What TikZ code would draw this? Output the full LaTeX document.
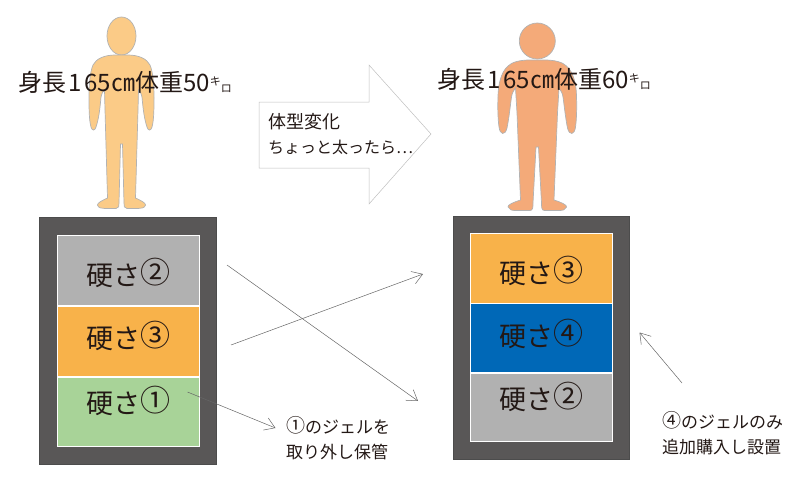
\documentclass[tikz,border=0pt]{standalone}
\usepackage{fontspec}
\setmainfont{Noto Sans CJK JP}
\usetikzlibrary{arrows.meta, positioning}
\definecolor{frameg}{HTML}{595757}
\definecolor{gelgray}{HTML}{B1B1B1}
\definecolor{gelorange}{HTML}{F8B24A}
\definecolor{gelgreen}{HTML}{A8D398}
\definecolor{gelblue}{HTML}{0068B7}
\definecolor{skinA}{HTML}{FBCB87}
\definecolor{skinB}{HTML}{F4AA79}
\definecolor{inkc}{HTML}{231815}
\newcommand{\kilo}{\raisebox{6pt}{\fontsize{11}{11}\selectfont キ}\raisebox{-1pt}{\fontsize{11}{11}\selectfont ロ}}
\newcommand{\hardnum}[1]{\raisebox{1.5pt}{\fontsize{30}{27}\selectfont #1}}
\newcommand{\notenum}[1]{\raisebox{1pt}{\fontsize{19}{25}\selectfont #1}}

\begin{document}
\begin{tikzpicture}[x=1pt, y=-1pt, every node/.style={text=inkc}]
   \tikzstyle{frame}=[rectangle, draw=black!70, fill=frameg, inner sep=0pt]
   \tikzstyle{gel}=[rectangle, draw=white, line width=1pt, inner sep=0pt, minimum width=142pt, minimum height=70pt]
   \tikzstyle{hard}=[font=\fontsize{27}{27}\selectfont, inner sep=0pt]
   \tikzstyle{note}=[font=\fontsize{17}{25}\selectfont, align=left, inner sep=0pt]
   \tikzstyle{size}=[font=\fontsize{24}{24}\selectfont, inner sep=0pt]
   \tikzstyle{body}=[draw=black!30, line width=0.7pt]
   \tikzstyle{thin}=[draw=black!60, line width=0.5pt, -{Straight Barb[length=10pt, width=13pt, line width=0.5pt]}]
   \useasboundingbox (0,0) rectangle (800,480);

   % Person before
   \draw[body, fill=skinA] (121.5,36) ellipse (14.5 and 19);
   \draw[body, fill=skinA] (115,55) .. controls (104,55) and (96,59) .. (93,65)
      .. controls (90,72) and (89,85) .. (89,97) .. controls (89,108) and (89,120) .. (91,127)
      .. controls (92,131) and (95,131) .. (96,127) .. controls (99,118) and (100,108) .. (101,97)
      .. controls (102,93) and (103,91) .. (104.5,90) -- (105,110) -- (107.5,198)
      .. controls (103,200) and (97,203) .. (97.5,205) .. controls (98,208) and (102,208.5) .. (105,208.5)
      -- (116,208.5) .. controls (119,208.5) and (119,206) .. (119,203) -- (120.5,144) -- (122.5,144) -- (124,203)
      .. controls (124,206) and (124,208.5) .. (127,208.5) -- (138,208.5)
      .. controls (141,208.5) and (145,208) .. (145.5,205) .. controls (146,203) and (140,200) .. (135.5,198)
      -- (138,110) -- (138.5,90) .. controls (140,91) and (141,93) .. (142,97)
      .. controls (143,108) and (144,118) .. (147,127) .. controls (148,131) and (151,131) .. (152,127)
      .. controls (154,120) and (154,108) .. (154,97) .. controls (154,85) and (153,72) .. (150,65)
      .. controls (147,59) and (139,55) .. (128,55) -- cycle;
   \draw (125,82) node[size] (before) {身長\kern2pt 1\kern3pt 65㎝体重50\kilo};

   % Person after
   \draw[body, fill=skinB] (537.3,41) circle (18);
   \draw[body, fill=skinB] (530,60) .. controls (520,60) and (512,62) .. (508,66)
      .. controls (501,72) and (498,85) .. (498,97) .. controls (497.5,108) and (498,120) .. (499,127)
      .. controls (500,135) and (505,136) .. (507,128) .. controls (509,118) and (510,108) .. (511.5,97)
      .. controls (512,93) and (514,90) .. (515.5,88) -- (517,113) -- (520.5,200)
      .. controls (514,202) and (507,205) .. (508,207) .. controls (509,210) and (512,210.5) .. (516,210.5)
      -- (530,210.5) .. controls (533,210.5) and (533,207) .. (533,203) -- (536,147) -- (538.5,147) -- (541.5,203)
      .. controls (541.5,207) and (541.5,210.5) .. (544.5,210.5) -- (558.5,210.5)
      .. controls (562.5,210.5) and (565.5,210) .. (566.5,207) .. controls (567.5,205) and (560.5,202) .. (554,200)
      -- (557.5,113) -- (559,88) .. controls (560.5,90) and (562.5,93) .. (563,97)
      .. controls (564.5,108) and (565.5,118) .. (567.5,128) .. controls (569.5,136) and (574.5,135) .. (575.5,127)
      .. controls (576.5,120) and (577,108) .. (576.5,97) .. controls (576.5,85) and (573.5,72) .. (566.5,66)
      .. controls (562.5,62) and (554.5,60) .. (544.5,60) -- cycle;
   \draw (544,79) node[size] (after) {身長\kern2pt 1\kern3pt 65㎝体重60\kilo};

   % Big arrow
   \draw[draw=black!25, line width=0.5pt] (259,102) -- (369,102) -- (369,65) -- (431,134) -- (369,204) -- (369,168) -- (259,168) -- cycle;
   \draw (268,134) node[note, anchor=west, font=\fontsize{16}{25}\selectfont] (change) {{\fontsize{18}{25}\selectfont 体型変化}\\ちょっと太ったら…};

   % Left bed
   \draw (127.5,340.5) node[frame, minimum width=177pt, minimum height=247pt] (frameL) {};
   \draw (128,270) node[gel, fill=gelgray] (gelL1) {};
   \draw (128,341) node[gel, fill=gelorange] (gelL2) {};
   \draw (128,411.5) node[gel, fill=gelgreen, minimum height=69pt] (gelL3) {};
   \draw (128,273) node[hard] {硬さ\hardnum{②}};
   \draw (128,336) node[hard] {硬さ\hardnum{③}};
   \draw (128,401) node[hard] {硬さ\hardnum{①}};

   % Right bed
   \draw (541,337.5) node[frame, minimum width=176pt, minimum height=243pt] (frameR) {};
   \draw (541.5,268) node[gel, fill=gelorange] (gelR1) {};
   \draw (541.5,337.5) node[gel, fill=gelblue, minimum height=69pt] (gelR2) {};
   \draw (541.5,407) node[gel, fill=gelgray, minimum height=68pt] (gelR3) {};
   \draw (541.5,271) node[hard] {硬さ\hardnum{③}};
   \draw (541.5,334) node[hard] {硬さ\hardnum{④}};
   \draw (541.5,397) node[hard] {硬さ\hardnum{②}};

   % Notes
   \draw (286,438.5) node[note, anchor=west] (noteL) {\notenum{①}のジェルを\\取り外し保管};
   \draw (662,433.5) node[note, anchor=west] (noteR) {\notenum{④}のジェルのみ\\追加購入し設置};

   % Arrow ends
   \coordinate (a1) at (227,265);
   \coordinate (a2) at (418,401);
   \coordinate (b1) at (231,345);
   \coordinate (b2) at (423,274);
   \coordinate (c1) at (187.5,392);
   \coordinate (c2) at (275.5,428);
   \coordinate (d1) at (682,383);
   \coordinate (d2) at (639.5,332.5);
   \draw[thin] (a1) -- (a2);
   \draw[thin] (b1) -- (b2);
   \draw[thin] (c1) -- (c2);
   \draw[thin] (d1) -- (d2);
\end{tikzpicture}
\end{document}
